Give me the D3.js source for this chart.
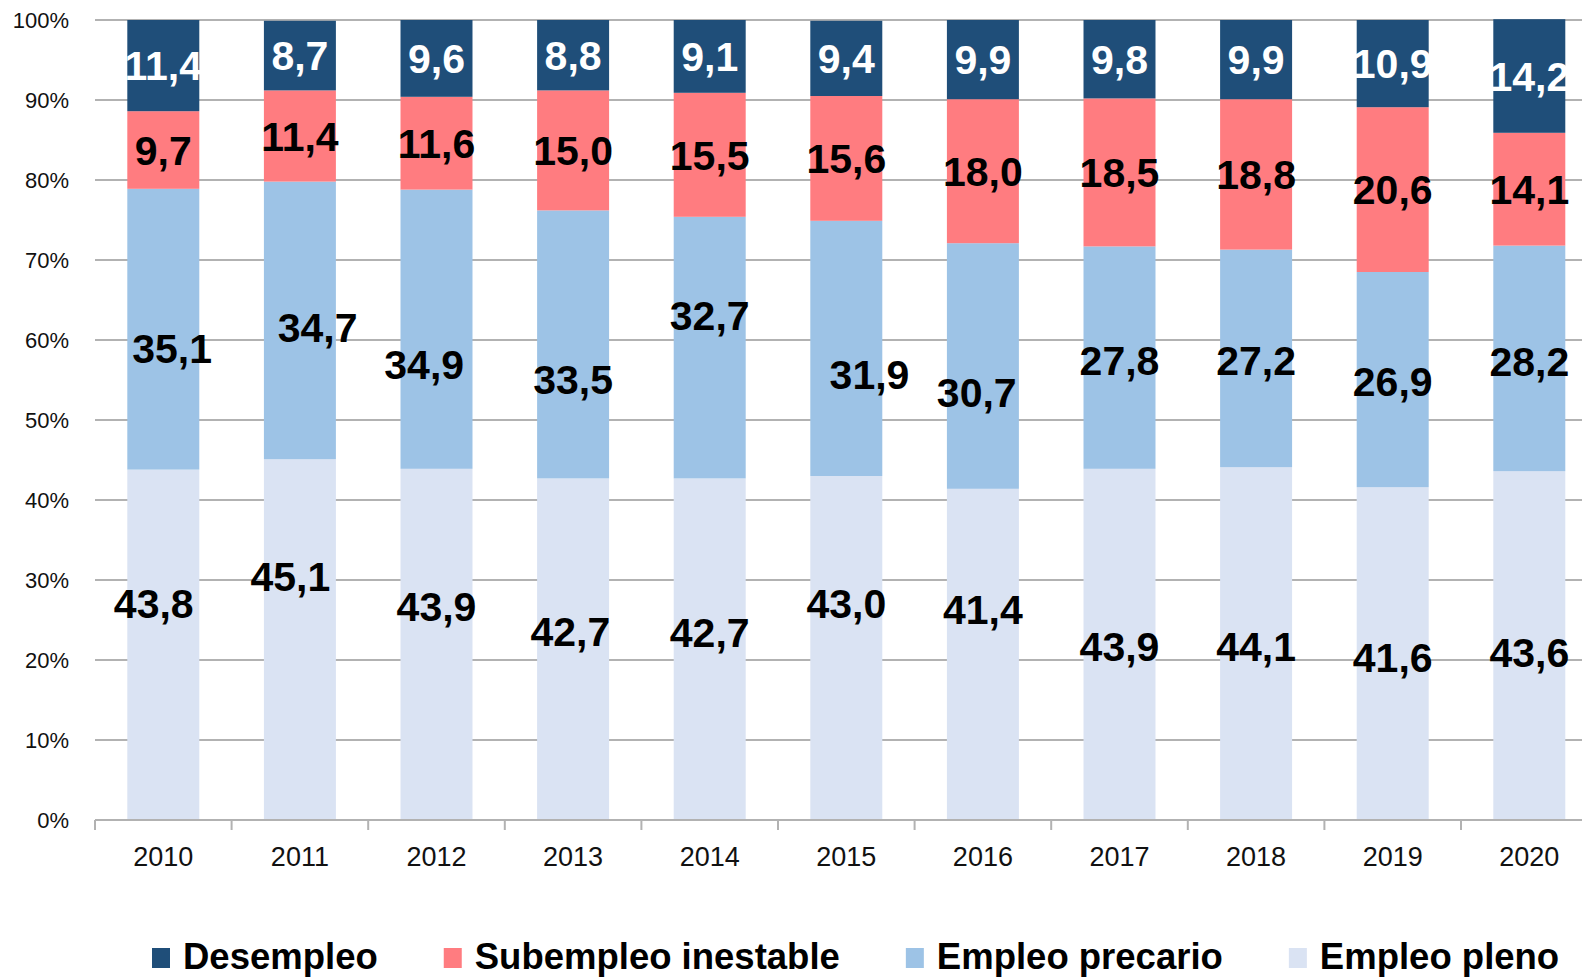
<!DOCTYPE html>
<html>
<head>
<meta charset="utf-8">
<script src="https://cdn.jsdelivr.net/npm/d3@7"></script>
<style>
  body { margin: 0; background: #fff; }
  svg { display: block; }
</style>
</head>
<body>
<script>
var years = ["2010", "2011", "2012", "2013", "2014", "2015", "2016", "2017", "2018", "2019", "2020"];

var desempleo = [11.4, 8.7, 9.6, 8.8, 9.1, 9.4, 9.9, 9.8, 9.9, 10.9, 14.2];
var subempleo = [9.7, 11.4, 11.6, 15.0, 15.5, 15.6, 18.0, 18.5, 18.8, 20.6, 14.1];
var precario  = [35.1, 34.7, 34.9, 33.5, 32.7, 31.9, 30.7, 27.8, 27.2, 26.9, 28.2];
var pleno     = [43.8, 45.1, 43.9, 42.7, 42.7, 43.0, 41.4, 43.9, 44.1, 41.6, 43.6];

var yTicks = [0, 10, 20, 30, 40, 50, 60, 70, 80, 90, 100];

// hand-moved labels in the original (y in percentage points, x in band steps)
var plenoNudgeY    = [5.2, 7.9, 4.8, 2.2, 2.1, 5.6, 5.6, -0.2, -0.3, -0.5, -0.8];
var plenoNudgeX    = [-0.07, -0.07, 0, -0.02, 0, 0, 0, 0, 0, 0, 0];
var precarioNudgeY = [-2.4, -0.9, -4.4, -4.4, 4.0, -3.2, -3.3, -0.3, -0.2, -0.2, -0.3];
var precarioNudgeX = [0.065, 0.13, -0.09, 0, 0, 0.17, -0.045, 0, 0, 0, 0];

var series = [
  { key: "pleno",     name: "Empleo pleno",        values: pleno,     color: "#DAE3F3", text: "#000", nx: plenoNudgeX,    ny: plenoNudgeY },
  { key: "precario",  name: "Empleo precario",     values: precario,  color: "#9DC3E6", text: "#000", nx: precarioNudgeX, ny: precarioNudgeY },
  { key: "subempleo", name: "Subempleo inestable", values: subempleo, color: "#FF7C80", text: "#000" },
  { key: "desempleo", name: "Desempleo",           values: desempleo, color: "#1F4E79", text: "#fff" }
];

var width = 1582, height = 978;
var margin = { left: 95, top: 20, bottom: 158 };
var step = 136.6;

var rows = years.map(function(y, i) {
  var r = { year: y };
  series.forEach(function(s) { r[s.key] = s.values[i]; });
  return r;
});

var stacked = d3.stack().keys(series.map(function(s) { return s.key; }))(rows);

var x = d3.scaleBand()
    .domain(years)
    .range([margin.left, margin.left + step * years.length])
    .paddingInner(0.473)
    .paddingOuter(0.2365);

var y = d3.scaleLinear()
    .domain([0, 100])
    .range([height - margin.bottom, margin.top]);

var svg = d3.select("body").append("svg")
    .attr("width", width)
    .attr("height", height);

// gridlines
svg.append("g")
  .selectAll("line")
    .data(yTicks.slice(1))
  .enter().append("line")
    .attr("x1", margin.left)
    .attr("x2", width)
    .attr("y1", function(d) { return y(d); })
    .attr("y2", function(d) { return y(d); })
    .attr("stroke", "#b2b2b2")
    .attr("stroke-width", 2);

// y axis labels
var yAxis = svg.append("g")
    .attr("transform", "translate(" + margin.left + ",0)")
    .call(d3.axisLeft(y).tickValues(yTicks).tickSize(0).tickPadding(26)
      .tickFormat(function(d) { return d + "%"; }));
yAxis.select(".domain").remove();
yAxis.selectAll("text")
    .attr("font-family", "'Liberation Sans', Arial, sans-serif")
    .attr("font-size", 22)
    .attr("fill", "#111");

// bars
var layers = svg.append("g")
  .selectAll("g")
    .data(stacked)
  .enter().append("g")
    .attr("fill", function(d, i) { return series[i].color; });

layers.selectAll("rect")
    .data(function(d) { return d; })
  .enter().append("rect")
    .attr("x", function(d) { return x(d.data.year); })
    .attr("width", x.bandwidth())
    .attr("y", function(d) { return y(d[1]); })
    .attr("height", function(d) { return y(d[0]) - y(d[1]); });

// x axis line + boundary ticks
var x0 = x.range()[0];
var base = y(0);
svg.append("line")
    .attr("x1", x0).attr("x2", width)
    .attr("y1", base).attr("y2", base)
    .attr("stroke", "#b2b2b2").attr("stroke-width", 2);
svg.append("g")
  .selectAll("line")
    .data(d3.range(years.length + 1))
  .enter().append("line")
    .attr("x1", function(i) { return x0 + i * x.step(); })
    .attr("x2", function(i) { return x0 + i * x.step(); })
    .attr("y1", base).attr("y2", base + 10)
    .attr("stroke", "#b2b2b2").attr("stroke-width", 2);

var xAxis = svg.append("g")
    .attr("transform", "translate(0," + base + ")")
    .call(d3.axisBottom(x).tickSize(0).tickPadding(27));
xAxis.select(".domain").remove();
xAxis.selectAll("text")
    .attr("font-family", "'Liberation Sans', Arial, sans-serif")
    .attr("font-size", 27)
    .attr("fill", "#111");

// data labels
var fmt = function(v) { return d3.format(".1f")(v).replace(".", ","); };

svg.append("g")
  .selectAll("g")
    .data(stacked)
  .enter().append("g")
    .each(function(layer, si) {
      var s = series[si];
      d3.select(this).selectAll("text")
          .data(layer)
        .enter().append("text")
          .attr("x", function(d, i) {
            return x(d.data.year) + x.bandwidth() / 2 + (s.nx ? s.nx[i] : 0) * x.step();
          })
          .attr("y", function(d, i) {
            return y((d[0] + d[1]) / 2 + (s.ny ? s.ny[i] : 0));
          })
          .attr("dy", "0.36em")
          .attr("text-anchor", "middle")
          .attr("font-family", "'Liberation Sans', Arial, sans-serif")
          .attr("font-weight", "bold")
          .attr("font-size", 41)
          .attr("fill", s.text)
          .text(function(d) { return fmt(d.data[s.key]); });
    });

// legend
var legendOrder = series.slice().reverse();
var legend = svg.append("g").attr("transform", "translate(152,948)");
var lx = 0;
legendOrder.forEach(function(s) {
  var g = legend.append("g").attr("transform", "translate(" + lx + ",0)");
  g.append("rect")
      .attr("width", 18)
      .attr("height", 20)
      .attr("fill", s.color);
  var t = g.append("text")
      .attr("x", 31)
      .attr("y", 21)
      .attr("font-family", "'Liberation Sans', Arial, sans-serif")
      .attr("font-weight", "bold")
      .attr("font-size", 36.5)
      .attr("fill", "#000")
      .text(s.name);
  lx += 31 + t.node().getComputedTextLength() + 66;
});
</script>
</body>
</html>
